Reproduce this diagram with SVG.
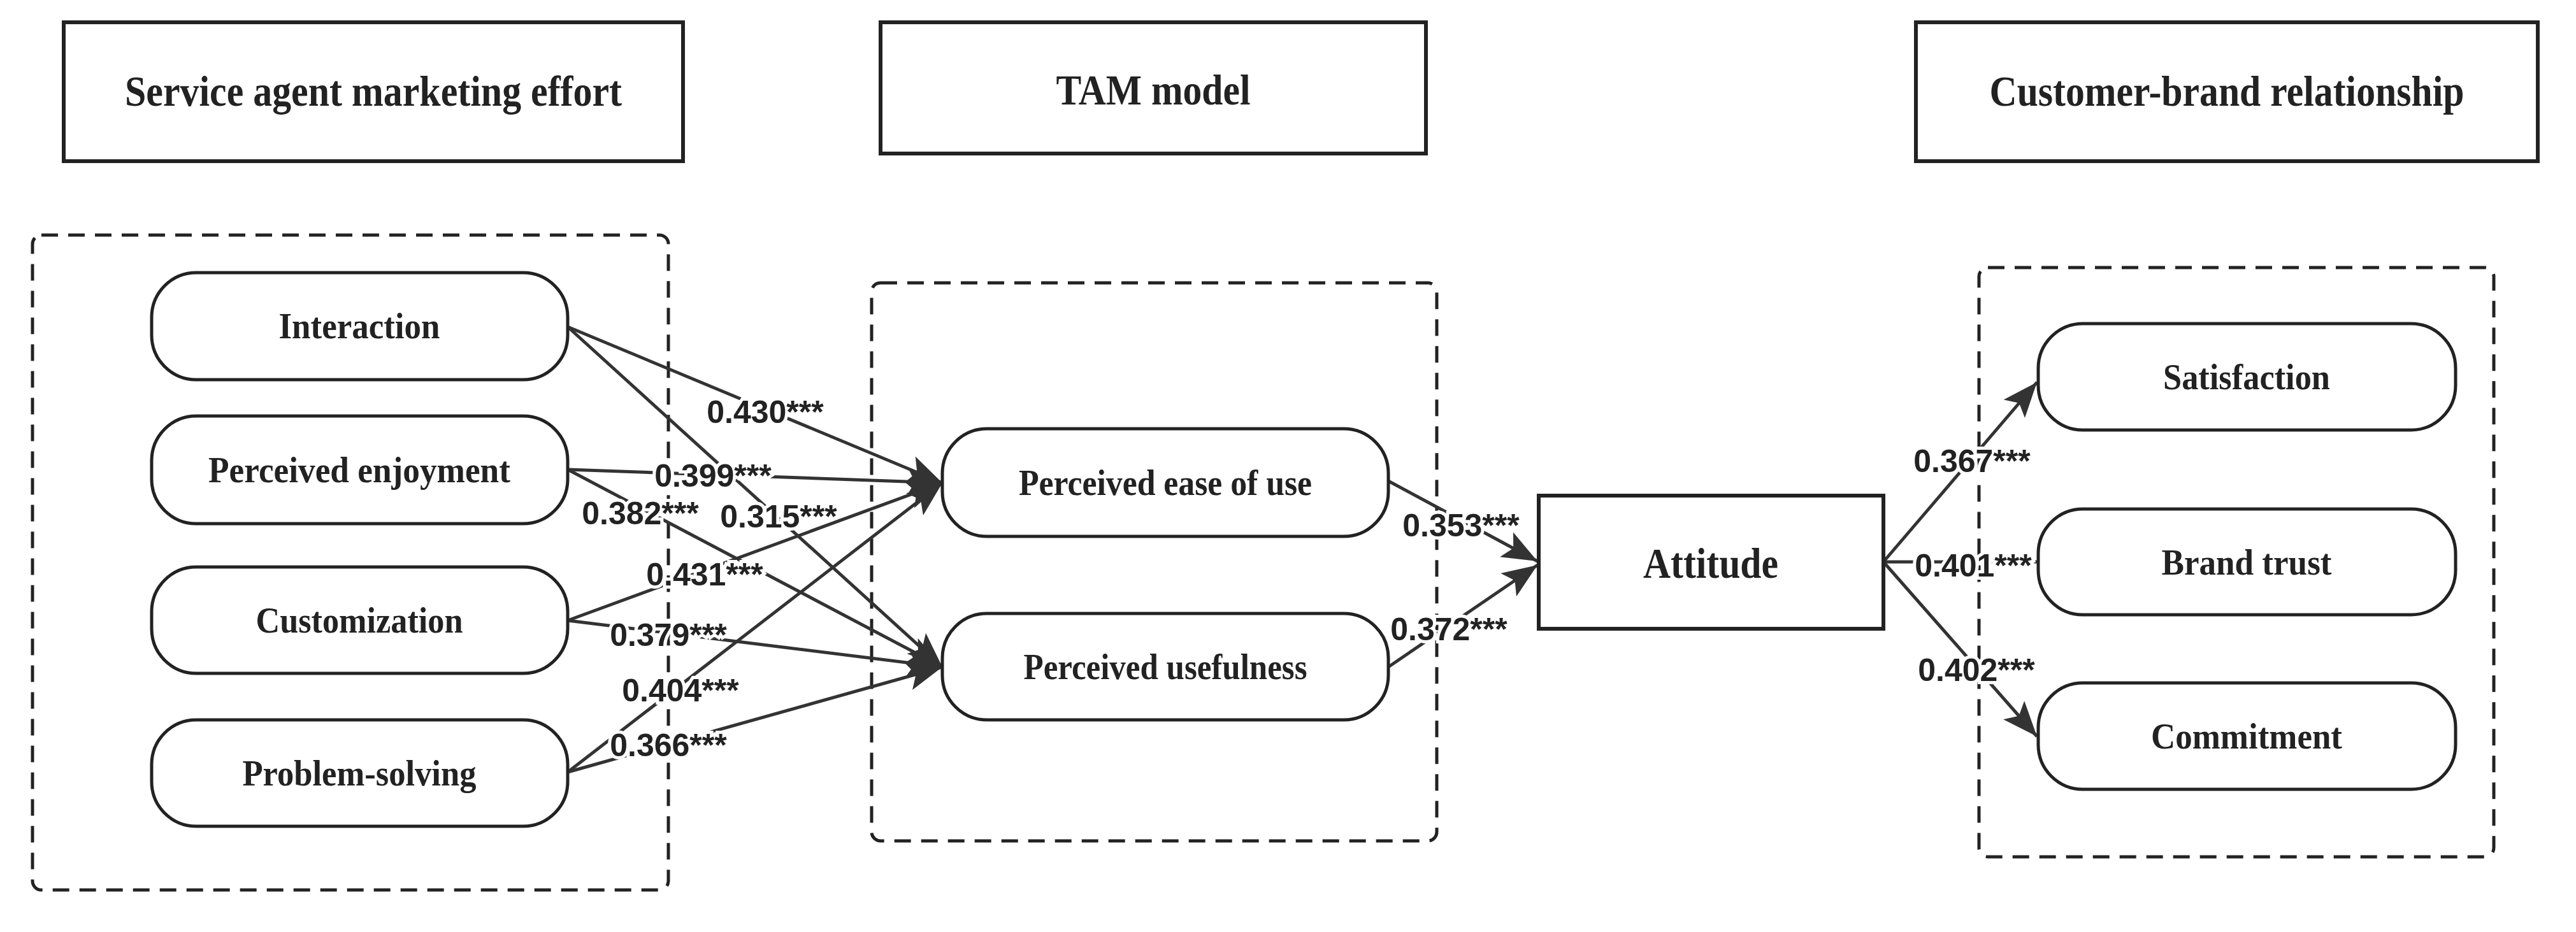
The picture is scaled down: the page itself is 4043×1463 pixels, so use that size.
<svg xmlns="http://www.w3.org/2000/svg" width="4043" height="1463" viewBox="0 0 4043 1463">
<style>
.hdr{fill:#fff;stroke:#222;stroke-width:6}
.dash{fill:none;stroke:#222;stroke-width:5;stroke-dasharray:26 16}
.node{fill:#fff;stroke:#222;stroke-width:5}
.ht{font-family:"Liberation Serif",serif;font-weight:bold;font-size:68px;fill:#222;text-anchor:middle}
.nt{font-family:"Liberation Serif",serif;font-weight:bold;font-size:56px;fill:#222;text-anchor:middle}
.lbl{font-family:"Liberation Sans",Arial,sans-serif;font-weight:bold;font-size:50px;fill:#222;text-anchor:middle;stroke:#fff;stroke-width:10;paint-order:stroke}
.c{stroke:#333;stroke-width:5;fill:none}
</style>
<defs>
<marker id="ah" markerUnits="userSpaceOnUse" markerWidth="60" markerHeight="50" refX="55" refY="22" orient="auto">
<path d="M0,0 L55,22 L0,44 L12,22 Z" fill="#333"/>
</marker>
</defs>
<rect width="4043" height="1463" fill="#fff"/>
<g id="header-service"><rect class="hdr" x="100" y="35" width="972" height="218"/><text class="ht" x="586" y="166" textLength="780" lengthAdjust="spacingAndGlyphs">Service agent marketing effort</text></g>
<g id="header-tam"><rect class="hdr" x="1382" y="35" width="856" height="206"/><text class="ht" x="1810" y="164" textLength="305" lengthAdjust="spacingAndGlyphs">TAM model</text></g>
<g id="header-cbr"><rect class="hdr" x="3007" y="35" width="976" height="218"/><text class="ht" x="3495" y="166" textLength="745" lengthAdjust="spacingAndGlyphs">Customer-brand relationship</text></g>
<g id="group-left"><rect class="dash" x="51" y="369" width="998" height="1028" rx="14"/></g>
<g id="group-tam"><rect class="dash" x="1368" y="444" width="887" height="876" rx="14"/></g>
<g id="group-right"><rect class="dash" x="3106" y="420" width="808" height="925" rx="14"/></g>
<g id="connectors">
<line class="c" x1="891" y1="513" x2="1479" y2="758" marker-end="url(#ah)"/>
<line class="c" x1="891" y1="513" x2="1479" y2="1047" marker-end="url(#ah)"/>
<line class="c" x1="891" y1="737" x2="1479" y2="758" marker-end="url(#ah)"/>
<line class="c" x1="891" y1="737" x2="1479" y2="1047" marker-end="url(#ah)"/>
<line class="c" x1="891" y1="974" x2="1479" y2="758" marker-end="url(#ah)"/>
<line class="c" x1="891" y1="974" x2="1479" y2="1047" marker-end="url(#ah)"/>
<line class="c" x1="891" y1="1212" x2="1479" y2="758" marker-end="url(#ah)"/>
<line class="c" x1="891" y1="1212" x2="1479" y2="1047" marker-end="url(#ah)"/>
<line class="c" x1="2179" y1="755" x2="2413" y2="881" marker-end="url(#ah)"/>
<line class="c" x1="2179" y1="1047" x2="2413" y2="887" marker-end="url(#ah)"/>
<line class="c" x1="2956" y1="882" x2="3197" y2="600" marker-end="url(#ah)"/>
<line class="c" x1="2956" y1="882" x2="3199" y2="882"/>
<line class="c" x1="2956" y1="882" x2="3197" y2="1156" marker-end="url(#ah)"/>
<text class="lbl" x="1201" y="664">0.430***</text>
<text class="lbl" x="1119" y="764">0.399***</text>
<text class="lbl" x="1005" y="823">0.382***</text>
<text class="lbl" x="1222" y="828">0.315***</text>
<text class="lbl" x="1106" y="919">0.431***</text>
<text class="lbl" x="1049" y="1014">0.379***</text>
<text class="lbl" x="1068" y="1101">0.404***</text>
<text class="lbl" x="1049" y="1187">0.366***</text>
<text class="lbl" x="2293" y="842">0.353***</text>
<text class="lbl" x="2274" y="1005">0.372***</text>
<text class="lbl" x="3095" y="741">0.367***</text>
<text class="lbl" x="3097" y="905">0.401***</text>
<text class="lbl" x="3102" y="1069">0.402***</text>
</g>
<g id="interaction"><rect class="node" x="238" y="428" width="653" height="168" rx="70"/><text class="nt" x="564" y="531" textLength="253" lengthAdjust="spacingAndGlyphs">Interaction</text></g>
<g id="perceived-enjoyment"><rect class="node" x="238" y="653" width="653" height="169" rx="70"/><text class="nt" x="564" y="757" textLength="474" lengthAdjust="spacingAndGlyphs">Perceived enjoyment</text></g>
<g id="customization"><rect class="node" x="238" y="890" width="653" height="167" rx="70"/><text class="nt" x="564" y="993" textLength="325" lengthAdjust="spacingAndGlyphs">Customization</text></g>
<g id="problem-solving"><rect class="node" x="238" y="1130" width="653" height="167" rx="70"/><text class="nt" x="564" y="1233" textLength="367" lengthAdjust="spacingAndGlyphs">Problem-solving</text></g>
<g id="peou"><rect class="node" x="1479" y="673" width="700" height="169" rx="70"/><text class="nt" x="1829" y="777" textLength="460" lengthAdjust="spacingAndGlyphs">Perceived ease of use</text></g>
<g id="pu"><rect class="node" x="1479" y="963" width="700" height="167" rx="70"/><text class="nt" x="1829" y="1066" textLength="445" lengthAdjust="spacingAndGlyphs">Perceived usefulness</text></g>
<g id="attitude"><rect class="hdr" x="2415" y="778" width="541" height="209"/><text class="ht" x="2685" y="907" textLength="212" lengthAdjust="spacingAndGlyphs">Attitude</text></g>
<g id="satisfaction"><rect class="node" x="3199" y="508" width="655" height="167" rx="70"/><text class="nt" x="3526" y="611" textLength="262" lengthAdjust="spacingAndGlyphs">Satisfaction</text></g>
<g id="brand-trust"><rect class="node" x="3199" y="799" width="655" height="166" rx="70"/><text class="nt" x="3526" y="902" textLength="267" lengthAdjust="spacingAndGlyphs">Brand trust</text></g>
<g id="commitment"><rect class="node" x="3199" y="1072" width="655" height="167" rx="70"/><text class="nt" x="3526" y="1175" textLength="300" lengthAdjust="spacingAndGlyphs">Commitment</text></g>
</svg>
